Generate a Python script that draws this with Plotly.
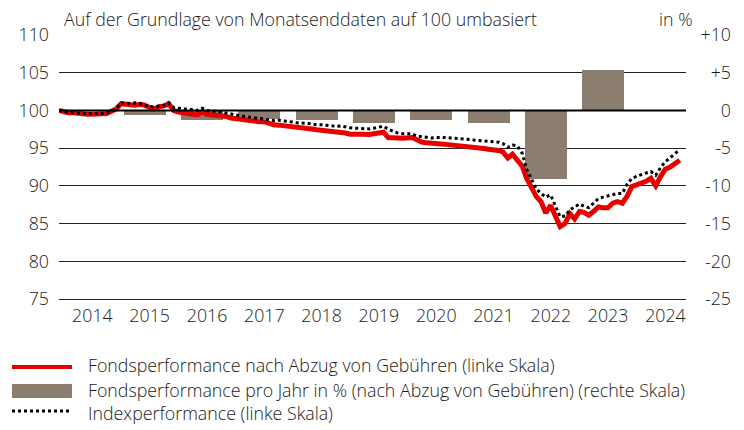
import pandas as pd
import plotly.graph_objects as go

# ---------------- data ----------------
dates = pd.date_range("2013-12-31", periods=131, freq="ME")

fund = [100.0, 99.8, 99.7, 99.7, 99.6, 99.6, 99.5, 99.5, 99.5, 99.5, 99.6, 99.9,
        100.2, 100.9, 100.8, 100.8, 100.7, 100.8, 100.7, 100.4, 100.2, 100.5, 100.6, 100.9,
        100.0, 99.8, 99.65, 99.6, 99.5, 99.4, 99.8, 99.5, 99.45, 99.3, 99.25, 99.2,
        99.0, 98.9, 98.85, 98.75, 98.6, 98.55, 98.5, 98.5, 98.25, 98.1, 98.05, 98.0,
        97.95, 97.9, 97.8, 97.75, 97.65, 97.55, 97.45, 97.4, 97.3, 97.15, 97.1, 97.2,
        97.0, 96.85, 96.9, 96.95, 96.85, 96.8, 96.9, 96.95, 97.1, 96.4, 96.3, 96.35,
        96.3, 96.3, 96.4, 96.1, 95.8, 95.7, 95.6, 95.5, 95.55, 95.5, 95.45, 95.4,
        95.35, 95.2, 95.1, 95.05, 95.0, 94.95, 94.85, 94.8, 94.7, 94.5, 93.7, 94.2,
        93.5, 92.6, 91.0, 89.6, 88.6, 87.9, 86.4, 87.4, 85.9, 84.6, 85.0, 86.3,
        85.6, 86.6, 86.5, 86.1, 86.6, 87.2, 87.1, 87.1, 87.7, 87.9, 87.7, 88.6,
        89.9, 90.1, 90.3, 90.6, 91.0, 90.0, 91.2, 92.2, 92.5, 92.9, 93.4]

index = [100.0, 99.8, 99.7, 99.7, 99.6, 99.6, 99.6, 99.6, 99.6, 99.6, 99.7, 99.9,
         100.3, 101.0, 101.0, 100.9, 101.0, 100.9, 100.7, 100.5, 100.4, 100.6, 100.7, 101.0,
         100.4, 100.3, 100.2, 100.2, 100.1, 100.0, 100.3, 100.0, 99.9, 99.9, 99.8, 99.7,
         99.5, 99.4, 99.3, 99.2, 99.1, 99.0, 98.9, 98.75, 98.7, 98.65, 98.7, 98.65,
         98.6, 98.45, 98.35, 98.35, 98.3, 98.2, 98.1, 98.1, 98.0, 97.95, 97.9, 97.95,
         97.8, 97.7, 97.65, 97.6, 97.6, 97.55, 97.65, 97.8, 97.9, 97.5, 97.2, 97.0,
         96.9, 96.9, 96.9, 96.6, 96.55, 96.45, 96.35, 96.4, 96.45, 96.4, 96.35, 96.3,
         96.3, 96.25, 96.15, 96.1, 96.05, 96.0, 95.95, 95.9, 95.8, 95.6, 95.1, 95.4,
         95.3, 94.3, 92.2, 90.9, 89.6, 89.0, 88.5, 88.8, 87.4, 85.9, 86.0, 86.8,
         87.2, 87.6, 87.3, 87.1, 87.7, 88.3, 88.5, 88.7, 88.9, 89.0, 89.0, 90.2,
         91.0, 91.3, 91.5, 91.7, 91.9, 91.4, 92.4, 93.2, 93.7, 94.2, 94.8]

bar_years = ["2015", "2016", "2017", "2018", "2019", "2020", "2021", "2022", "2023"]
bar_values = [-0.6, -1.3, -1.2, -1.3, -1.7, -1.3, -1.7, -9.1, 5.4]

year_labels = ["2014", "2015", "2016", "2017", "2018", "2019", "2020",
               "2021", "2022", "2023", "2024"]
left_ticks = [75, 80, 85, 90, 95, 100, 105, 110]
right_ticks = [-25, -20, -15, -10, -5, 0, 5, 10]
right_labels = ["-25", "-20", "-15", "-10", "-5", "0", "+5", "+10"]

legend_labels = [
    "Fondsperformance nach Abzug von Gebühren (linke Skala)",
    "Fondsperformance pro Jahr in % (nach Abzug von Gebühren) (rechte Skala)",
    "Indexperformance (linke Skala)",
]
title_text = "Auf der Grundlage von Monatsenddaten auf 100 umbasiert"
unit_text = "in %"

# ---------------- styling ----------------
RED = "#e60000"
BROWN = "#8b7d70"
TXT = "#1a1a1a"
FONT = "Open Sans"
FS = 17.8
FW = 300

# the page body has an 8px margin: build the figure so that
# reference pixel (x, y) lands on figure pixel (x - 8, y - 8)
OX, OY = 8, 8
W, H = 744 - OX, 430 - OY
PLOT_L, PLOT_R, PLOT_T, PLOT_B = 59, 686, 35, 299   # plot area in reference px
PAPER_R = 741
L = PLOT_L - OX
T = PLOT_T - OY
B = H - (PLOT_B - OY)
R_MARG = W - (PAPER_R - OX)
PW = W - L - R_MARG
PH = H - T - B
dom = (PLOT_R - PLOT_L) / PW


def px(xr):
    return (xr - PLOT_L) / PW


def py(yr):
    return (PLOT_B - yr) / PH


tfont = dict(family=FONT, size=FS, color=TXT, weight=FW)

bar_x = [y + "-07-01" for y in bar_years]
bar_width_ms = 267.7 * 86400000
tick_x = [y + "-08-01" for y in year_labels]

fig = go.Figure()

# bars on main y axis (right scale, %)
fig.add_trace(go.Bar(x=bar_x, y=bar_values, width=[bar_width_ms] * len(bar_x),
                     marker=dict(color=BROWN, line=dict(width=0)),
                     yaxis="y", xaxis="x", showlegend=False, hoverinfo="skip"))
# lines on overlay (left scale)
fig.add_trace(go.Scatter(x=dates, y=fund, mode="lines", yaxis="y2",
                         line=dict(color=RED, width=5), showlegend=False))
fig.add_trace(go.Scatter(x=dates, y=index, mode="lines", yaxis="y2",
                         line=dict(color="#000000", width=3, dash="dot"),
                         showlegend=False))

fig.update_layout(
    width=W, height=H,
    margin=dict(l=L, r=R_MARG, t=T, b=B, pad=0),
    paper_bgcolor="white", plot_bgcolor="white",
    font=tfont,
    showlegend=False,
    bargap=0,
    xaxis=dict(type="date", domain=[0, dom],
               range=["2013-12-31", "2024-12-10"],
               tickmode="array", tickvals=tick_x, ticktext=year_labels,
               showgrid=False, zeroline=False,
               showline=True, linecolor="#222222", linewidth=1,
               ticks="", ticklabelstandoff=1, tickfont=tfont),
    yaxis=dict(range=[-25, 10], anchor="free", position=1.0, side="left",
               tickmode="array", tickvals=right_ticks, ticktext=right_labels,
               showgrid=False, zeroline=False, showline=False, ticks="",
               ticklabelstandoff=10, tickfont=tfont),
    yaxis2=dict(range=[75, 110], overlaying="y", side="left", anchor="x",
                tickmode="array", tickvals=left_ticks,
                showgrid=True, gridcolor="#222222", gridwidth=1,
                zeroline=False, showline=False, ticks="",
                ticklabelstandoff=9, tickfont=tfont),
)

shapes = [
    # zero line (right scale 0 / left scale 100)
    dict(type="line", xref="x domain", yref="y", x0=0, x1=1, y0=0, y1=0,
         line=dict(color="#000000", width=2), layer="above"),
    # legend swatches
    dict(type="line", xref="paper", yref="paper", x0=px(12), x1=px(72),
         y0=py(367), y1=py(367), line=dict(color=RED, width=4)),
    dict(type="rect", xref="paper", yref="paper", x0=px(12), x1=px(72),
         y0=py(384), y1=py(398), line=dict(width=0), fillcolor=BROWN),
    dict(type="line", xref="paper", yref="paper", x0=px(12), x1=px(72),
         y0=py(411), y1=py(411), line=dict(color="#000000", width=3, dash="dot")),
]
fig.update_layout(shapes=shapes)

ann = [
    dict(text=title_text, x=px(62), y=py(19), xref="paper", yref="paper",
         xanchor="left", yanchor="middle", showarrow=False, font=tfont),
    dict(text=unit_text, x=px(695), y=py(19), xref="paper", yref="paper",
         xanchor="right", yanchor="middle", showarrow=False, font=tfont),
]
for lab, yy in zip(legend_labels, [365, 390, 413]):
    ann.append(dict(text=lab, x=px(86), y=py(yy), xref="paper", yref="paper",
                    xanchor="left", yanchor="middle", showarrow=False, font=tfont))
fig.update_layout(annotations=ann)

fig.write_html("out.html")
